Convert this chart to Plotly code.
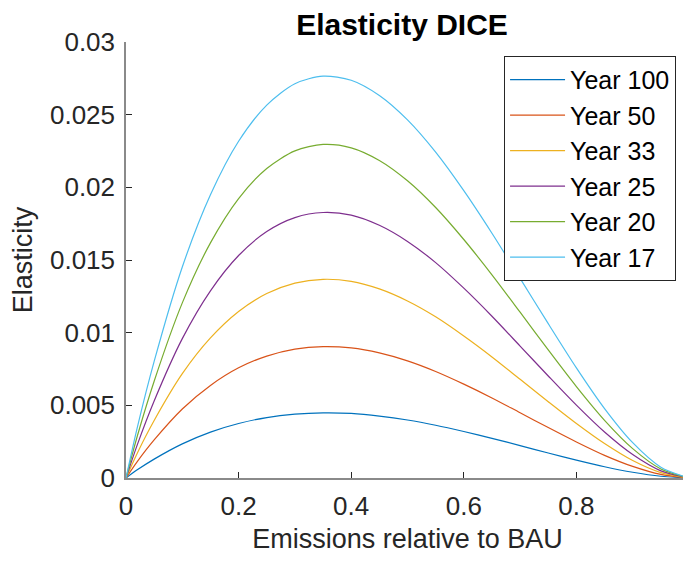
import plotly.graph_objects as go

# Emissions relative to BAU (x axis)
x_vals = [0, 0.02, 0.05, 0.1, 0.15, 0.2, 0.25, 0.3, 0.35, 0.4, 0.45, 0.5,
          0.55, 0.6, 0.65, 0.7, 0.75, 0.8, 0.85, 0.9, 0.95, 1.0]

year_100 = [0, 0.00056, 0.00130, 0.00235, 0.00316, 0.00375, 0.00416, 0.00439, 0.00448, 0.00444, 0.00426,
            0.00399, 0.00363, 0.00320, 0.00273, 0.00223, 0.00172, 0.00123, 0.000775, 0.000394, 0.000121, 0]
year_50 = [0, 0.00113, 0.00262, 0.00475, 0.00637, 0.00758, 0.00839, 0.00887, 0.00904, 0.00895, 0.00861,
           0.00806, 0.00733, 0.00646, 0.00551, 0.00449, 0.00347, 0.00248, 0.00156, 0.000796, 0.000244, 0]
year_33 = [0, 0.00171, 0.00396, 0.00718, 0.00964, 0.01146, 0.01269, 0.01341, 0.01367, 0.01353, 0.01301,
           0.01218, 0.01109, 0.00977, 0.00833, 0.00679, 0.00525, 0.00375, 0.00237, 0.00120, 0.000369, 0]
year_25 = [0, 0.00228, 0.00530, 0.00959, 0.01288, 0.01531, 0.01696, 0.01792, 0.01827, 0.01809, 0.01739,
           0.01628, 0.01482, 0.01306, 0.01113, 0.00908, 0.00702, 0.00501, 0.00316, 0.00161, 0.000493, 0]
year_20 = [0, 0.00287, 0.00666, 0.01205, 0.01618, 0.01923, 0.02130, 0.02251, 0.02295, 0.02272, 0.02185,
           0.02045, 0.01861, 0.01641, 0.01398, 0.01141, 0.00881, 0.00629, 0.00397, 0.00202, 0.00062, 0]
year_17 = [0, 0.00346, 0.00802, 0.01452, 0.01949, 0.02317, 0.02566, 0.02713, 0.02765, 0.02737, 0.02632,
           0.02464, 0.02242, 0.01977, 0.01684, 0.01374, 0.01062, 0.00758, 0.00478, 0.00243, 0.000747, 0]

series_names = ["Year 100", "Year 50", "Year 33", "Year 25", "Year 20", "Year 17"]
series_values = [year_100, year_50, year_33, year_25, year_20, year_17]
series_colors = ["#0072BD", "#D95319", "#EDB120", "#7E2F8E", "#77AC30", "#4DBEEE"]

x_ticks = [0, 0.2, 0.4, 0.6, 0.8, 1]
x_tick_labels = ["0", "0.2", "0.4", "0.6", "0.8", "1"]
y_ticks = [0, 0.005, 0.01, 0.015, 0.02, 0.025, 0.03]
y_tick_labels = ["0", "0.005", "0.01", "0.015", "0.02", "0.025", "0.03"]

FONT = "Liberation Sans, Arial, Helvetica, sans-serif"

fig = go.Figure()
for name, vals, col in zip(series_names, series_values, series_colors):
    fig.add_trace(go.Scatter(x=x_vals, y=vals, mode="lines", name=name,
                             line=dict(color=col, width=1.2, shape="spline", smoothing=0.8)))

axis_common = dict(showgrid=False, zeroline=False, showline=True, linecolor="#8a8a8a",
                   linewidth=1.5, ticks="inside", ticklen=6, tickcolor="#262626",
                   tickwidth=1, mirror=False, automargin=False,
                   ticklabeloverflow="allow",
                   tickfont=dict(family=FONT, size=26, color="#262626"))

fig.update_layout(
    width=691, height=563,
    margin=dict(l=118, r=10, t=34, b=93, autoexpand=False),
    paper_bgcolor="white", plot_bgcolor="white",
    title=dict(text="<b>Elasticity DICE</b>", x=(394 / 691), xanchor="center",
               y=1 - 16 / 563, yanchor="middle", automargin=False,
               font=dict(family=FONT, size=30, color="black")),
    xaxis=dict(range=[0, 1], tickvals=x_ticks, ticktext=x_tick_labels,
               ticklabelstandoff=4,
               title=dict(text="Emissions relative to BAU", standoff=9,
                          font=dict(family=FONT, size=27, color="#262626")),
               **axis_common),
    yaxis=dict(range=[0, 0.03], tickvals=y_ticks, ticktext=y_tick_labels,
               ticklabelstandoff=4,
               title=dict(text="Elasticity", standoff=11,
                          font=dict(family=FONT, size=27, color="#262626")),
               **axis_common),
    legend=dict(x=0.977, xanchor="right", y=0.968, yanchor="top",
                bordercolor="#262626", borderwidth=1, bgcolor="white",
                itemwidth=55, tracegroupgap=0,
                font=dict(family=FONT, size=25, color="black")),
    showlegend=True,
)

fig.write_html("out.html")
